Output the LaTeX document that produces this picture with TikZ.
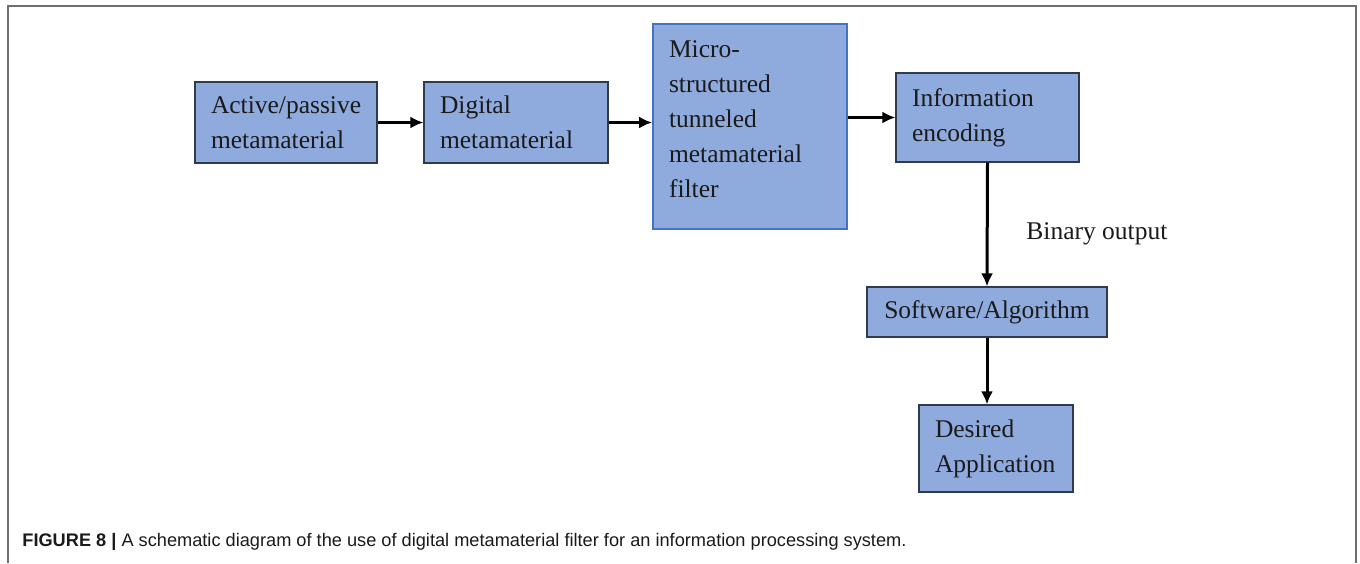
\documentclass[tikz,border=0pt]{standalone}
\usepackage{fontspec}
\setmainfont{Liberation Serif}
\newfontfamily\capfont{Liberation Sans}
\usetikzlibrary{arrows.meta}
\definecolor{BoxFill}{HTML}{8FAADC}
\definecolor{BoxEdge}{HTML}{2F3B4C}
\definecolor{FilterEdge}{HTML}{4472C4}
\definecolor{Frame}{HTML}{6E6E6E}
\definecolor{Ink}{HTML}{1A1A1A}

\begin{document}
\begin{tikzpicture}[x=0.5pt,y=-0.5pt,>={Latex[length=6.5pt,width=6pt]},
  every node/.style={text=Ink},
  blk/.style={draw=BoxEdge,fill=BoxFill,line width=0.6pt,inner xsep=8pt,inner ysep=0pt,align=left,
    font=\fontsize{12.75}{17.5}\selectfont},
  arr/.style={->,line width=1.5pt,black}]
\useasboundingbox (0,0) rectangle (1360,563);
\draw[Frame,line width=1pt] (8,563)--(8,6)--(1356,6)--(1356,563);
% blocks
\node[blk,text width=75pt,minimum height=40.5pt] (act) at (286,122.5){Active/passive\\metamaterial};
\node[blk,text width=76pt,minimum height=40.5pt] (dig) at (516,122.5){Digital\\metamaterial};
\node[blk,draw=FilterEdge,line width=0.9pt,text width=81pt,minimum height=102.5pt] (flt) at (750,126.5){Micro-\\structured\\tunneled\\metamaterial\\filter\\[-10.5pt]\mbox{}};
\node[blk,text width=75.5pt,minimum height=44.5pt] (enc) at (987.5,117.5){Information\\encoding};
\node[blk,align=center,text width=104pt,minimum height=25pt] (sw) at (987,312){Software/Algorithm};
\node[blk,text width=61pt,minimum height=43.5pt] (app) at (996,448.5){Desired\\Application};
\node[anchor=west,inner sep=0,font=\fontsize{12.75}{17.5}\selectfont] (bin) at (1026,234){Binary output};
% arrows
\draw[arr] (act.east)--(dig.west);
\draw[arr] (dig.east)--(dig.east-|flt.west);
\draw[arr] (flt.east|-enc.west)--(enc.west);
\draw[arr] (enc.south)--(sw.north);
\draw[arr] (sw.south)--(sw.south|-app.north);
\node[anchor=base west,inner sep=0,font=\capfont\fontsize{9.1}{10}\selectfont] (cap) at (22,546)
  {\textbf{FIGURE 8 |} A schematic diagram of the use of digital metamaterial filter for an information processing system.};
\end{tikzpicture}
\end{document}
